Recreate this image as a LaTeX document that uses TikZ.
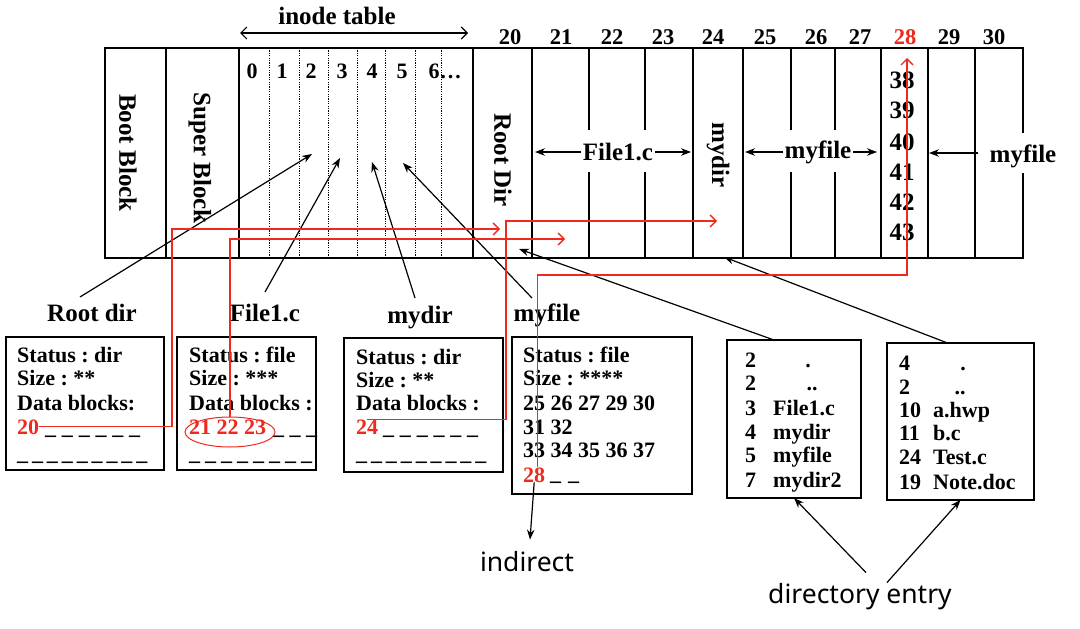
\documentclass[tikz,border=0pt]{standalone}
\usepackage{fontspec}
\setmainfont{Liberation Serif}
\newfontfamily\sansk{Noto Sans}
\usetikzlibrary{arrows.meta,shapes.geometric}
\definecolor{rred}{RGB}{238,42,30}
\newcommand\dsh[2]{\foreach \k in {2,...,#1}{\_\hspace{#2}}\_}
\frenchspacing
\begin{document}
\begin{tikzpicture}[x=1pt,y=-1pt,
  ln/.style={line width=1.3pt},
  dl/.style={line width=0.8pt,dash pattern=on 1.2pt off 1.2pt},
  ptr/.style={line width=1.2pt,-{Stealth[length=10pt,width=7.5pt]}},
  rp/.style={draw=rred,line width=1.3pt,-{Straight Barb[length=6pt,width=12pt]}},
  bx/.style={draw,line width=1.3pt,anchor=north west,inner sep=0,outer sep=0},
  tx/.style={font=\bfseries\fontsize{22}{24}\selectfont,anchor=base west,inner sep=0},
  txc/.style={tx,anchor=base},
  lbl/.style={font=\bfseries\fontsize{25}{28}\selectfont,anchor=base,inner sep=0},
  hdr/.style={font=\bfseries\fontsize{22.5}{25}\selectfont,inner sep=0},
  rot/.style={font=\bfseries\fontsize{25}{27}\selectfont,rotate=-90,inner sep=0},
  big/.style={font=\bfseries\fontsize{25}{27}\selectfont,inner sep=0},
  sn/.style={font=\sansk\fontsize{26.5}{30}\selectfont,inner sep=0},
]
\fill[white] (0,0) rectangle (1080,629);
\useasboundingbox (0,0) rectangle (1080,629);

% ---- disk strip ----
\draw[ln] (1023,133) -- (1023,48) -- (105,48) -- (105,258) -- (1023,258) -- (1023,173);
\foreach \x in {166,239,473,532,693,743,881,928,975} \draw[ln] (\x,48) -- (\x,258);
\foreach \x in {589,645,791,835} {\draw[ln] (\x,48) -- (\x,130); \draw[ln] (\x,172) -- (\x,258);}
\foreach \x in {269,299,328,357,385,415,441} \draw[dl] (\x,48) -- (\x,258);

% header
\node[big] (itab) at (337,16) {inode table};
\coordinate (itl) at (240,33);
\coordinate (itr) at (468,33);
\draw[line width=1.1pt,{Straight Barb[length=6pt,width=12pt]}-{Straight Barb[length=6pt,width=12pt]}] (itl) -- (itr);
\foreach \n/\x in {20/510,21/561,22/612,23/663,24/713,25/765,26/816,27/860,29/949,30/994}
  \node[hdr] (h\n) at (\x,37) {\n};
\node[hdr,text=rred] (h28) at (905,37) {28};
\foreach \n/\x in {0/252,1/282,2/311,3/342,4/372,5/402}
  \node[hdr,font=\bfseries\fontsize{22}{24}\selectfont] (i\n) at (\x,71) {\n};
\node[hdr,font=\bfseries\fontsize{22}{24}\selectfont] (i6) at (445,71) {6\ldots};

% rotated block names
\node[rot] (boot) at (128,153) {Boot Block};
\node[rot] (super) at (200,158) {Super Block};
\node[rot] (rootd) at (503,160) {Root Dir};
\node[rot] (mydirb) at (718,155) {mydir};

% indirect block contents
\foreach \n/\y in {38/80,39/110,40/142,41/172,42/202,43/232}
  \node[big] (c\n) at (902,\y) {\n};

% data block labels
\node[big,inner xsep=2pt] (bf1) at (618,152) {File1.c};
\coordinate (f1l) at (535,152);
\coordinate (f1r) at (691,152);
\draw[ptr] (bf1.west) -- (f1l);
\draw[ptr] (bf1.east) -- (f1r);
\node[big,inner xsep=1pt] (bmf) at (818,152) {myfile};
\coordinate (mfl) at (745,152);
\coordinate (mfr) at (877,152);
\draw[ptr] (bmf.west) -- (mfl);
\draw[ptr] (bmf.east) -- (mfr);
\node[big] (rmf) at (1023,156) {myfile};
\coordinate (mfa) at (929,153);
\path ([xshift=-11pt]rmf.west) coordinate (mfs);
\draw[ptr] (mfs |- mfa) -- (mfa);

% ---- inode labels ----
\node[lbl] (lroot) at (92,321) {Root dir};
\node[lbl] (lfile) at (265,321) {File1.c};
\node[lbl] (lmydir) at (420,323) {mydir};
\node[lbl] (lmyfile) at (547,321) {myfile};
\coordinate (ip2) at (312,154);
\coordinate (ip3) at (340,158);
\coordinate (ip4) at (372,162);
\coordinate (ip5) at (403,163);
\draw[ptr] ([shift={(-12pt,24pt)}]lroot.base) -- (ip2);
\draw[ptr] ([shift={(0pt,29pt)}]lfile.base) -- (ip3);
\draw[ptr] ([shift={(-5pt,25pt)}]lmydir.base) -- (ip4);
\draw[ptr] ([shift={(-15pt,23pt)}]lmyfile.base) -- (ip5);

% ---- boxes ----
\node[bx,minimum width=158pt,minimum height=133pt] (broot) at (6,337) {};
\node[bx,minimum width=139pt,minimum height=133pt] (bfile) at (177,337) {};
\node[bx,minimum width=159pt,minimum height=134pt] (bmydir) at (344,338) {};
\node[bx,minimum width=180pt,minimum height=157pt] (bmyfile) at (512,337) {};
\node[bx,minimum width=134pt,minimum height=158pt] (bdir1) at (727,340) {};
\node[bx,minimum width=147pt,minimum height=157pt] (bdir2) at (887,343) {};

% root dir inode
\node[tx] (r1) at (17,362) {Status : dir};
\node[tx] (r2) at (17,385) {Size : **};
\node[tx] (r3) at (17,410) {Data blocks:};
\node[tx,text=rred] (n20) at (17,434) {20};
\node[tx] (r4) at (45,434) {\dsh{6}{5.8pt}};
\node[tx] (r5) at (17,460) {\dsh{9}{3.9pt}};

% File1.c inode
\node[tx] (f1) at (189,362) {Status : file};
\node[tx] (f2) at (189,385) {Size : ***};
\node[tx] (f3) at (189,410) {Data blocks :};
\node[tx,text=rred] (n21) at (189,434) {21 22 23};
\node[tx] (f4) at (273,434) {\dsh{3}{5.5pt}};
\node[tx] (f5) at (189,460) {\dsh{8}{5pt}};
\node[draw=rred,ellipse,line width=1pt,minimum width=90pt,minimum height=30pt,inner sep=0] (e21) at (230,432) {};

% mydir inode
\node[tx] (m1) at (356,364) {Status : dir};
\node[tx] (m2) at (356,387) {Size : **};
\node[tx] (m3) at (356,410) {Data blocks :};
\node[tx,text=rred] (n24) at (356,434) {24};
\node[tx] (m4) at (383,434) {\dsh{6}{5.8pt}};
\node[tx] (m5) at (356,460) {\dsh{9}{3.9pt}};

% myfile inode
\node[tx] (y1) at (523,362) {Status : file};
\node[tx] (y2) at (523,385) {Size : ****};
\node[tx] (y3) at (523,410) {25 26 27 29 30};
\node[tx] (y4) at (523,434) {31 32};
\node[tx] (y5) at (523,457) {33 34 35 36 37};
\node[tx,text=rred] (n28) at (523,482) {28};
\node[tx] (y6) at (550,480) {\dsh{2}{7pt}};

% directory entries 1
\node[tx] (a1) at (745,367) {2};   \node[txc] (b1) at (808,367) {.};
\node[tx] (a2) at (745,390) {2};   \node[txc] (b2) at (812,390) {..};
\node[tx] (a3) at (745,415) {3};   \node[tx] (b3) at (773,415) {File1.c};
\node[tx] (a4) at (745,439) {4};   \node[tx] (b4) at (773,439) {mydir};
\node[tx] (a5) at (745,462) {5};   \node[tx] (b5) at (773,462) {myfile};
\node[tx] (a6) at (745,487) {7};   \node[tx] (b6) at (773,487) {mydir2};

% directory entries 2
\node[tx] (c1) at (899,370) {4};   \node[txc] (d1) at (963,370) {.};
\node[tx] (c2) at (899,394) {2};   \node[txc] (d2) at (960,394) {..};
\node[tx] (c3) at (899,417) {10};  \node[tx] (d3) at (933,417) {a.hwp};
\node[tx] (c4) at (899,440) {11};  \node[tx] (d4) at (933,440) {b.c};
\node[tx] (c5) at (899,464) {24};  \node[tx] (d5) at (933,464) {Test.c};
\node[tx] (c6) at (899,489) {19};  \node[tx] (d6) at (933,489) {Note.doc};

% directory box pointers
\coordinate (rdb) at (519,249);
\coordinate (mdb) at (724,257);
\draw[ptr] ([xshift=-20pt]bdir1.north) -- (rdb);
\draw[ptr] ([xshift=-13pt]bdir2.north) -- (mdb);

% bottom labels
\node[sn] (dent) at (860,597) {directory entry};
\draw[ptr] ([shift={(6pt,11pt)}]dent.north) -- (bdir1.south);
\draw[ptr] ([shift={(27pt,1pt)}]dent.north) -- (bdir2.south);
\node[sn] (indirect) at (527,562) {indirect};
\draw[ptr] (n28.south) -- ([shift={(3pt,12pt)}]indirect.north);

% ---- red block pointers ----
\coordinate (rdir) at (500,229);
\coordinate (f1blk) at (565,239);
\coordinate (mdblk) at (717,221);
\coordinate (t28) at (907,58);
\draw[rp] (n20.east) -| (172,229) -- (rdir);
\draw[rp] (e21.north) |- (f1blk);
\draw[rp] (n24.north) -| (506,221) -- (mdblk);
\draw[rp] ([xshift=3pt]n28.north) |- (907,275) -- (t28);
\end{tikzpicture}
\end{document}
